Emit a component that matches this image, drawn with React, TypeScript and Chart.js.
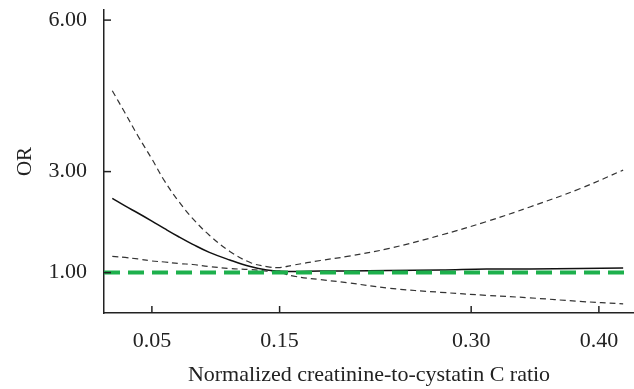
import React, { useEffect, useRef } from "react";
import { Chart, registerables } from "chart.js";

Chart.register(...registerables);

const ratio = [0.019, 0.029, 0.039, 0.05, 0.06, 0.071, 0.082, 0.095, 0.111, 0.127, 0.14, 0.15, 0.161, 0.182, 0.203, 0.236, 0.276, 0.312, 0.346, 0.385, 0.419];
const orEstimate = [2.47, 2.32, 2.18, 2.02, 1.87, 1.71, 1.56, 1.4, 1.25, 1.12, 1.05, 1.03, 1.02, 1.03, 1.03, 1.04, 1.05, 1.07, 1.07, 1.08, 1.09];
const upperCI = [4.6, 4.16, 3.71, 3.25, 2.81, 2.41, 2.07, 1.74, 1.42, 1.2, 1.12, 1.1, 1.15, 1.24, 1.32, 1.48, 1.74, 2.01, 2.3, 2.66, 3.03];
const lowerCI = [1.32, 1.3, 1.27, 1.23, 1.21, 1.18, 1.16, 1.12, 1.08, 1.06, 1.03, 1.0, 0.93, 0.86, 0.8, 0.69, 0.61, 0.55, 0.5, 0.43, 0.38];
const refX = [0.0125, 0.422];
const refY = [1, 1];
const xTicks = [0.05, 0.15, 0.3, 0.4];
const yTicks = [1, 3, 6];

const FONT = "'Liberation Serif', 'DejaVu Serif', serif";

const insideTicks = {
  id: "insideTicks",
  afterDraw(chart: any) {
    const { ctx, scales, chartArea } = chart;
    ctx.save();
    ctx.strokeStyle = "#222";
    ctx.lineWidth = 1.5;
    const xs = scales.x;
    xTicks.forEach((v) => {
      const px = xs.getPixelForValue(v);
      ctx.beginPath();
      ctx.moveTo(px, chartArea.bottom);
      ctx.lineTo(px, chartArea.bottom - 7);
      ctx.stroke();
    });
    const ys = scales.y;
    yTicks.forEach((v) => {
      const py = ys.getPixelForValue(v);
      ctx.beginPath();
      ctx.moveTo(chartArea.left, py);
      ctx.lineTo(chartArea.left + 7, py);
      ctx.stroke();
    });
    ctx.restore();
  },
};

export default function App() {
  const ref = useRef<HTMLCanvasElement | null>(null);
  useEffect(() => {
    document.body.style.margin = "0";
    const toPts = (ys: number[]) => ratio.map((x, i) => ({ x, y: ys[i] }));
    const chart = new Chart(ref.current as HTMLCanvasElement, {
      type: "line",
      data: {
        datasets: [
          {
            data: refX.map((x, i) => ({ x, y: refY[i] })),
            borderColor: "#1db04c",
            borderWidth: 4,
            borderDash: [16, 8],
            pointRadius: 0,
          },
          {
            data: toPts(upperCI),
            borderColor: "#333",
            borderWidth: 1.2,
            borderDash: [6, 4],
            pointRadius: 0,
            tension: 0.4,
          },
          {
            data: toPts(lowerCI),
            borderColor: "#333",
            borderWidth: 1.2,
            borderDash: [6, 4],
            pointRadius: 0,
            tension: 0.4,
          },
          {
            data: toPts(orEstimate),
            borderColor: "#111",
            borderWidth: 1.5,
            pointRadius: 0,
            tension: 0.4,
          },
        ],
      },
      options: {
        animation: false,
        responsive: false,
        layout: { padding: { top: 10, right: 0, left: 0, bottom: 0 } },
        plugins: { legend: { display: false }, tooltip: { enabled: false } },
        scales: {
          x: {
            type: "linear",
            min: 0.0125,
            max: 0.4275,
            afterBuildTicks: (s: any) => {
              s.ticks = xTicks.map((v) => ({ value: v }));
            },
            afterFit: (s: any) => {
              s.height = 76;
              s.paddingLeft = 0;
              s.paddingRight = 0;
            },
            grid: { display: true, drawOnChartArea: false, drawTicks: false },
            border: { display: true, color: "#222", width: 1.5 },
            ticks: {
              color: "#222",
              padding: 15,
              maxRotation: 0,
              font: { family: FONT, size: 22, lineHeight: 1.2 },
              callback: (v: any) => Number(v).toFixed(2),
            },
            title: {
              display: true,
              text: "Normalized creatinine-to-cystatin C ratio",
              color: "#222",
              padding: { top: 0, bottom: 1 },
              font: { family: FONT, size: 22, lineHeight: 1.2 },
            },
          },
          y: {
            type: "linear",
            min: 0.2,
            max: 6.2,
            afterBuildTicks: (s: any) => {
              s.ticks = yTicks.map((v) => ({ value: v }));
            },
            afterFit: (s: any) => {
              s.width = 104;
              s.paddingTop = 0;
              s.paddingBottom = 0;
            },
            grid: { display: true, drawOnChartArea: false, drawTicks: false },
            border: { display: true, color: "#222", width: 1.5 },
            ticks: {
              color: "#222",
              padding: 17,
              font: { family: FONT, size: 22, lineHeight: 1.0 },
              callback: (v: any) => Number(v).toFixed(2),
            },
            title: {
              display: true,
              text: "OR",
              color: "#222",
              padding: { top: 13, bottom: 0 },
              font: { family: FONT, size: 21, lineHeight: 1.2 },
            },
          },
        },
      },
      plugins: [insideTicks],
    });
    return () => chart.destroy();
  }, []);
  return <canvas ref={ref} width={634} height={389} style={{ display: "block" }} />;
}
